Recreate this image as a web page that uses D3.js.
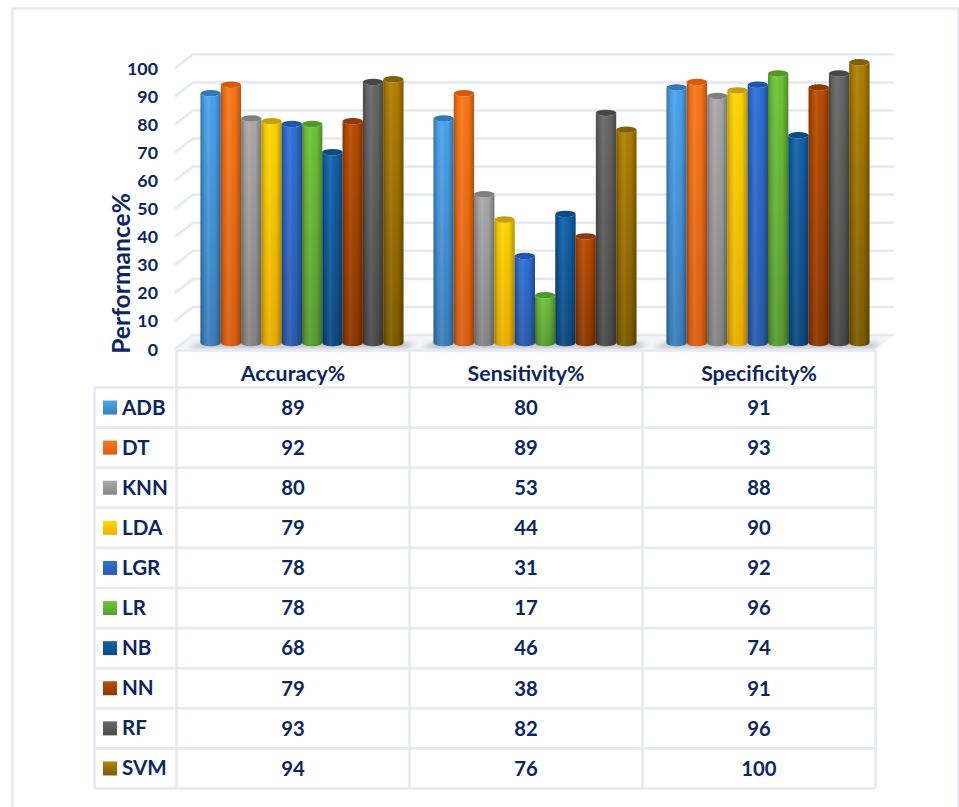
<!DOCTYPE html>
<html>
<head>
<meta charset="utf-8">
<script src="https://cdn.jsdelivr.net/npm/d3@7"></script>
<style>
  html, body { margin: 0; padding: 0; background: #fff; }
  svg { display: block; }
  text { font-family: Lato, "Open Sans", sans-serif; font-weight: 700; fill: #0c2661; }
</style>
</head>
<body>
<svg id="chart" width="959" height="807"></svg>
<script>
const metrics = ["Accuracy%", "Sensitivity%", "Specificity%"];
const models = ["ADB", "DT", "KNN", "LDA", "LGR", "LR", "NB", "NN", "RF", "SVM"];
const accuracy = [89, 92, 80, 79, 78, 78, 68, 79, 93, 94];
const sensitivity = [80, 89, 53, 44, 31, 17, 46, 38, 82, 76];
const specificity = [91, 93, 88, 90, 92, 96, 74, 91, 96, 100];
const yTicks = [0, 10, 20, 30, 40, 50, 60, 70, 80, 90, 100];
const topColors = ["#4aa5f0", "#fd7816", "#ababab", "#ffd800", "#2f70da", "#6fc636", "#1063ad", "#bb4c00", "#686868", "#b38100"];
const bottomColors = ["#3b7fbd", "#dd5f12", "#858585", "#edaf00", "#2a5bad", "#599c32", "#0d4a80", "#8c3700", "#4b4b4b", "#7d5b00"];
const capColors = ["#2f79b8", "#d85a08", "#808080", "#c99e00", "#1f55ab", "#4f9a25", "#0a4a85", "#8f3800", "#474747", "#806000"];

const byMetric = [accuracy, sensitivity, specificity];
const gridColor = "#e6e9f1";
const svg = d3.select("#chart");
const defs = svg.append("defs");

// Frame around the whole figure
svg.append("path")
  .attr("d", "M12.5,807V8.5H958.5V807")
  .attr("fill", "none").attr("stroke", gridColor).attr("stroke-width", 2.5);

// Scales: the axis scale runs along the front edge of the floor
const y = d3.scaleLinear().domain([0, 100]).range([349, 68.3]);
const wallLift = 14, barLift = 6, wallShift = 18;
const tableX = d3.scaleBand().domain(metrics).range([176.5, 875.5]);
const clusterShift = 9;
const barWidth = 20.3;
const clusterWidth = barWidth * models.length;
const barX = (metric, model) =>
  tableX(metric) + clusterShift + (tableX.bandwidth() - clusterWidth) / 2 +
  models.indexOf(model) * barWidth;

// Gradients for the cylinder bodies and legend swatches
models.forEach((m, i) => {
  const g = defs.append("linearGradient").attr("id", "body" + i)
    .attr("x1", 0).attr("x2", 0).attr("y1", 0).attr("y2", 1);
  g.append("stop").attr("offset", 0).attr("stop-color", topColors[i]);
  g.append("stop").attr("offset", 1).attr("stop-color", bottomColors[i]);
});
const shade = defs.append("linearGradient").attr("id", "shade")
  .attr("x1", 0).attr("x2", 1).attr("y1", 0).attr("y2", 0);
[[0, "#000", 0.3], [0.14, "#000", 0.1], [0.4, "#fff", 0.07], [0.7, "#000", 0.02], [1, "#000", 0.3]]
  .forEach(([o, c, a]) => shade.append("stop").attr("offset", o)
    .attr("stop-color", c).attr("stop-opacity", a));
defs.append("filter").attr("id", "soft")
  .attr("x", "-10%").attr("y", "-150%").attr("width", "120%").attr("height", "400%")
  .append("feGaussianBlur").attr("stdDeviation", 2.4);

// Floor and gridlines on the back and side walls
const floorRight = 894;
svg.append("path")
  .attr("d", `M175,${y(0)}L${175 + wallShift},${y(0) - wallLift}H${floorRight}L${floorRight - 18},${y(0)}Z`)
  .attr("fill", "#f3f5f9");
const grid = svg.append("g").attr("fill", "none")
  .attr("stroke", gridColor).attr("stroke-width", 2.6);
grid.selectAll("path").data(yTicks).join("path")
  .attr("d", t => `M175,${y(t)}L${175 + wallShift},${y(t) - wallLift}H${floorRight}`);

// Soft contact shadow under each group of cylinders
svg.append("g").selectAll("path").data(metrics).join("path")
  .attr("d", m => {
    const x0 = barX(m, models[0]) - 14, x1 = x0 + clusterWidth + 26, b = y(0) - 1;
    return `M${x0},${b}L${x0 + 14},${b - 5}H${x1}L${x1 - 10},${b}Z`;
  })
  .attr("fill", "#83878e").attr("opacity", 0.55)
  .attr("filter", "url(#soft)");

// Cylinders
const ry = 3.2;
const cylinder = (x, top, base) => {
  const w = barWidth;
  return `M${x},${top}V${base}A${w / 2},${ry} 0 0 0 ${x + w},${base}V${top}A${w / 2},${ry} 0 0 1 ${x},${top}Z`;
};
metrics.forEach((metric, mi) => {
  const cluster = svg.append("g").attr("class", "cluster");
  const rows = models.map((m, i) => ({ m, i, v: byMetric[mi][i] }));
  const bars = cluster.selectAll("g").data(rows).join("g");
  const top = d => y(d.v) - barLift;
  const base = y(0) - barLift;
  bars.append("path")
    .attr("d", d => cylinder(barX(metric, d.m), top(d), base))
    .attr("fill", d => `url(#body${d.i})`);
  bars.append("path")
    .attr("d", d => cylinder(barX(metric, d.m), top(d), base))
    .attr("fill", "url(#shade)");
  bars.append("ellipse")
    .attr("cx", d => barX(metric, d.m) + barWidth / 2)
    .attr("cy", top)
    .attr("rx", barWidth / 2).attr("ry", ry)
    .attr("fill", d => capColors[d.i]);
});

// Value axis
const axis = d3.axisLeft(y).tickValues(yTicks).tickSize(0).tickPadding(0);
const axisG = svg.append("g").attr("transform", "translate(158,0)").call(axis);
axisG.select(".domain").remove();
axisG.selectAll("text")
  .attr("font-size", 17.8)
  .style("font-family", "Lato, sans-serif")
  .attr("dy", "0.34em");

svg.append("text")
  .attr("transform", "translate(130,273.5) rotate(-90)")
  .attr("text-anchor", "middle")
  .attr("font-size", 24.6)
  .text("Performance%");

// Data table
const rowY = d3.scaleBand().domain(models).range([387.5, 788.5]);
const tableLines = svg.append("g").attr("stroke", gridColor)
  .attr("stroke-width", 2.6).attr("fill", "none");
tableLines.selectAll("path.h").data(models.concat("end")).join("path").attr("class", "h")
  .attr("d", d => {
    const py = d === "end" ? rowY.range()[1] : rowY(d);
    return `M94.5,${py}H875.5`;
  });
tableLines.append("path").attr("d", `M176.5,350.5H875.5`);
tableLines.append("path").attr("d", `M94.5,387.5V788.5`);
tableLines.selectAll("path.v").data(metrics.concat("end")).join("path").attr("class", "v")
  .attr("d", d => {
    const px = d === "end" ? tableX.range()[1] : tableX(d);
    return `M${px},350.5V788.5`;
  });

svg.append("g").selectAll("text").data(metrics).join("text")
  .attr("x", m => tableX(m) + tableX.bandwidth() / 2)
  .attr("y", 380.5)
  .attr("text-anchor", "middle")
  .attr("font-size", 21.3)
  .text(m => m);

const rows = svg.append("g").selectAll("g").data(models).join("g")
  .attr("transform", m => `translate(0,${rowY(m) + rowY.bandwidth() / 2})`);
rows.append("rect")
  .attr("x", 103).attr("y", -7).attr("width", 14).attr("height", 14)
  .attr("fill", (m, i) => `url(#body${i})`);
rows.append("text")
  .attr("x", 122).attr("dy", "0.34em")
  .attr("font-size", 20.6)
  .text(m => m);
metrics.forEach((metric, mi) => {
  rows.append("text")
    .attr("x", tableX(metric) + tableX.bandwidth() / 2)
    .attr("dy", "0.36em")
    .attr("text-anchor", "middle")
    .attr("font-size", 20.3)
    .text((m, i) => byMetric[mi][i]);
});
</script>
</body>
</html>
